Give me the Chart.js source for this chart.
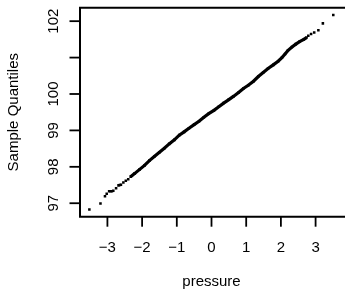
<!DOCTYPE html>
<html>
<head>
<meta charset="utf-8">
<script src="https://cdn.jsdelivr.net/npm/chart.js@4.4.0/dist/chart.umd.min.js"></script>
<style>
  html, body { margin: 0; padding: 0; background: #fff; overflow: hidden; }
  canvas { display: block; }
</style>
</head>
<body>
<canvas id="chart" width="347" height="292"></canvas>
<script>
// lower tail, separate points
const lowX = [-3.52, -3.20, -3.07, -3.02, -2.95, -2.91, -2.87, -2.83, -2.75, -2.68, -2.64, -2.61, -2.54, -2.47, -2.40];
const lowY = [96.83, 96.99, 97.19, 97.26, 97.33, 97.33, 97.33, 97.34, 97.41, 97.49, 97.50, 97.51, 97.57, 97.62, 97.66];

// dense middle part
const bodyX = [-2.33, -2.21, -2.07, -1.93, -1.79, -1.64, -1.50, -1.36, -1.22, -1.07, -0.93, -0.79, -0.65,
  -0.50, -0.36, -0.22, -0.08, 0.07, 0.21, 0.35, 0.49, 0.64, 0.78, 0.92, 1.06, 1.21, 1.35, 1.49,
  1.63, 1.78, 1.92, 2.03, 2.12, 2.20, 2.32, 2.43, 2.54, 2.66, 2.74];
const bodyY = [97.73, 97.82, 97.93, 98.04, 98.17, 98.29, 98.40, 98.51, 98.63, 98.74, 98.87, 98.96, 99.06,
  99.16, 99.25, 99.36, 99.46, 99.55, 99.65, 99.75, 99.84, 99.94, 100.04, 100.15, 100.24, 100.35, 100.48, 100.59,
  100.70, 100.80, 100.90, 101.00, 101.10, 101.19, 101.29, 101.37, 101.44, 101.50, 101.55];

// upper tail
const highX = [2.79, 2.87, 2.96, 3.08, 3.21, 3.51];
const highY = [101.60, 101.65, 101.69, 101.75, 101.94, 102.17];

const xTicks = [-3, -2, -1, 0, 1, 2, 3];
const xTickLabels = ['\u22123', '\u22122', '\u22121', '0', '1', '2', '3'];
const yTicks = [97, 98, 99, 100, 101, 102];
const yTickLabels = ['97', '98', '99', '100', '', '102'];
const xTitle = 'pressure';
const yTitle = 'Sample Quantiles';

const pts = (xs, ys) => xs.map((x, i) => ({ x: x, y: ys[i] }));
const FONT = '15px "Liberation Sans", Arial, sans-serif';

// box, ticks and labels the R way
const rAxes = {
  id: 'rAxes',
  afterDraw(chart) {
    const ctx = chart.ctx;
    const a = chart.chartArea;
    const xs = chart.scales.x, ys = chart.scales.y;
    ctx.save();
    ctx.strokeStyle = '#000';
    ctx.lineWidth = 2;
    ctx.beginPath();
    ctx.moveTo(chart.width + 5, a.top);
    ctx.lineTo(a.left, a.top);
    ctx.lineTo(a.left, a.bottom);
    ctx.lineTo(chart.width + 5, a.bottom);
    ctx.stroke();

    ctx.lineWidth = 1.8;
    ctx.fillStyle = '#000';
    ctx.font = FONT;
    ctx.textAlign = 'center';
    ctx.textBaseline = 'alphabetic';
    xTicks.forEach((v, i) => {
      const px = xs.getPixelForValue(v);
      ctx.beginPath();
      ctx.moveTo(px, a.bottom);
      ctx.lineTo(px, a.bottom + 10);
      ctx.stroke();
      ctx.fillText(xTickLabels[i], px, 251.5);
    });
    yTicks.forEach((v, i) => {
      const py = ys.getPixelForValue(v);
      ctx.beginPath();
      ctx.moveTo(a.left, py);
      ctx.lineTo(a.left - 10.5, py);
      ctx.stroke();
      if (yTickLabels[i]) {
        ctx.save();
        ctx.translate(57.5, py);
        ctx.rotate(-Math.PI / 2);
        ctx.fillText(yTickLabels[i], 0, 0);
        ctx.restore();
      }
    });
    ctx.fillText(xTitle, (a.left + a.right) / 2, 285.5);
    ctx.save();
    ctx.translate(17.5, (a.top + a.bottom) / 2);
    ctx.rotate(-Math.PI / 2);
    ctx.fillText(yTitle, 0, 0);
    ctx.restore();
    ctx.restore();
  }
};

const markStyle = {
  borderColor: '#000',
  backgroundColor: '#000',
  pointStyle: 'rect',
  pointRadius: 1.8,
  pointBorderWidth: 0
};

new Chart(document.getElementById('chart'), {
  type: 'scatter',
  data: {
    datasets: [
      Object.assign({ data: pts(bodyX, bodyY), showLine: true, borderWidth: 3.2 }, markStyle),
      Object.assign({ data: pts(lowX, lowY) }, markStyle),
      Object.assign({ data: pts(highX, highY) }, markStyle)
    ]
  },
  options: {
    responsive: false,
    animation: false,
    devicePixelRatio: 1,
    layout: { padding: { left: 80, top: 7.7, right: 1, bottom: 75.3 } },
    plugins: { legend: { display: false }, tooltip: { enabled: false } },
    scales: {
      x: { type: 'linear', min: -3.79, max: 3.79, display: false },
      y: { type: 'linear', min: 96.63, max: 102.37, display: false }
    }
  },
  plugins: [rAxes]
});
</script>
</body>
</html>
